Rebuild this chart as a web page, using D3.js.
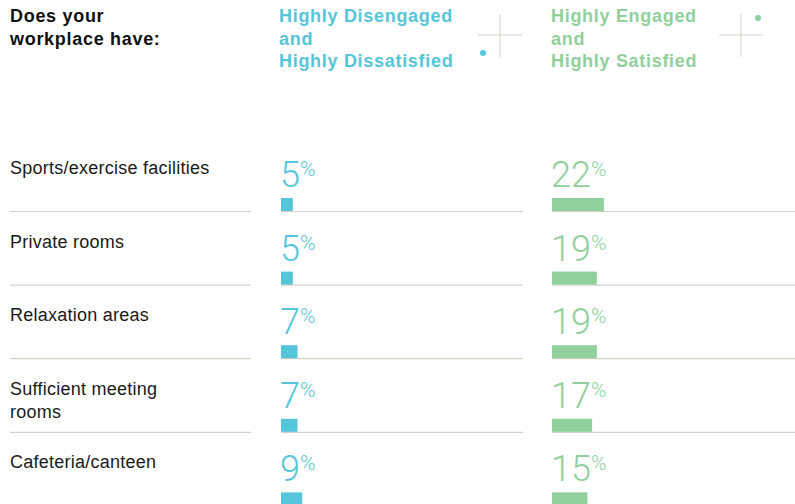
<!DOCTYPE html>
<html>
<head>
<meta charset="utf-8">
<script src="https://cdn.jsdelivr.net/npm/d3@7"></script>
<style>
  body { margin: 0; background: #fff; }
  svg { display: block; }
  .label { font-family: "Liberation Sans", Arial, sans-serif; font-size: 18px; letter-spacing: 0.25px; fill: #1a1a1a; }
  .head { font-family: "Liberation Sans", Arial, sans-serif; font-size: 18px; font-weight: bold; letter-spacing: 0.7px; }
  .num { font-family: Roboto, "Open Sans", sans-serif; font-weight: 300; }
</style>
</head>
<body>
<svg width="795" height="504"></svg>
<script>
  'use strict';

  const categories = [
    ['Sports/exercise facilities'],
    ['Private rooms'],
    ['Relaxation areas'],
    ['Sufficient meeting', 'rooms'],
    ['Cafeteria/canteen']
  ];
  const disengaged = [5, 5, 7, 7, 9];
  const engaged = [22, 19, 19, 17, 15];

  const blue = '#55c6d9';
  const green = '#8fd09c';
  const rule = '#d3d1c6';

  const svg = d3.select('svg');

  // header
  const title = svg.append('text').attr('class', 'head').attr('fill', '#111');
  ['Does your', 'workplace have:'].forEach((t, i) =>
    title.append('tspan').attr('x', 10).attr('y', 22 + i * 22.5).text(t));

  const groups = [
    {x: 279, color: blue, lines: ['Highly Disengaged', 'and', 'Highly Dissatisfied'], cx: 500, dot: [483, 53]},
    {x: 551, color: green, lines: ['Highly Engaged', 'and', 'Highly Satisfied'], cx: 741, dot: [758, 18]}
  ];
  groups.forEach(g => {
    const t = svg.append('text').attr('class', 'head').attr('fill', g.color);
    g.lines.forEach((l, i) => t.append('tspan').attr('x', g.x).attr('y', 22 + i * 22.5).text(l));
    svg.append('line').attr('x1', g.cx).attr('x2', g.cx).attr('y1', 14).attr('y2', 57)
      .attr('stroke', rule).attr('stroke-width', 1);
    svg.append('line').attr('x1', g.cx - 22).attr('x2', g.cx + 22).attr('y1', 35).attr('y2', 35)
      .attr('stroke', rule).attr('stroke-width', 1);
    svg.append('circle').attr('cx', g.dot[0]).attr('cy', g.dot[1]).attr('r', 3).attr('fill', g.color);
  });

  // rows
  const y = d3.scaleLinear().domain([0, 1]).range([211, 284.6]);
  const x = d3.scaleLinear().domain([0, 100]).range([0, 236]);

  const cols = [
    {x0: 281, x1: 523, values: disengaged, color: blue},
    {x0: 552, x1: 795, values: engaged, color: green}
  ];

  categories.forEach((c, i) => {
    const base = y(i);
    const lab = svg.append('text').attr('class', 'label');
    c.forEach((l, j) => lab.append('tspan').attr('x', 10).attr('y', base - 37 + j * 23).text(l));
    svg.append('line').attr('x1', 10).attr('x2', 251).attr('y1', base + 0.5).attr('y2', base + 0.5)
      .attr('stroke', rule).attr('stroke-width', 1.2);

    cols.forEach(col => {
      const v = col.values[i];
      svg.append('line').attr('x1', col.x0).attr('x2', col.x1).attr('y1', base + 0.5).attr('y2', base + 0.5)
        .attr('stroke', rule).attr('stroke-width', 1.2);
      svg.append('rect').attr('x', col.x0).attr('y', base - 13)
        .attr('width', x(v)).attr('height', 13).attr('fill', col.color);
      const n = svg.append('text').attr('class', 'num').attr('fill', col.color)
        .attr('x', col.x0 - 1).attr('y', base - 24);
      n.append('tspan').attr('font-size', 36).text(v);
      n.append('tspan').attr('font-size', 21).attr('dy', -11).text('%');
    });
  });
</script>
</body>
</html>
